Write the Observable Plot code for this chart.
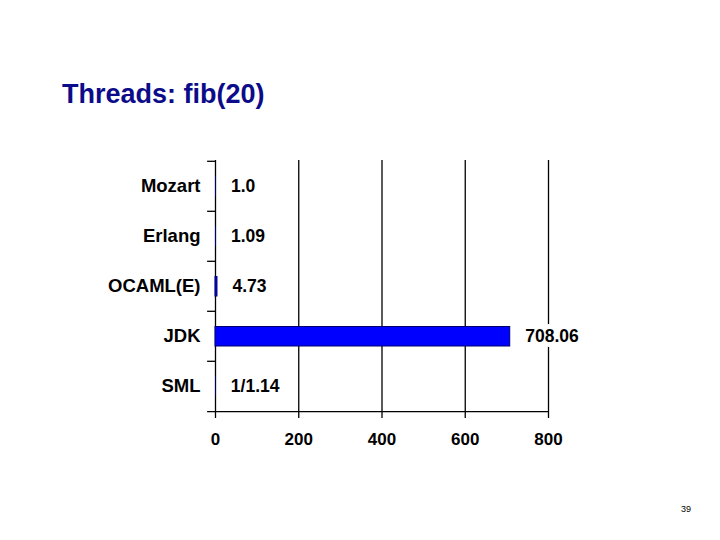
<!DOCTYPE html>
<html>
<head>
<meta charset="utf-8">
<script src="https://cdn.jsdelivr.net/npm/d3@7"></script>
<script src="https://cdn.jsdelivr.net/npm/@observablehq/plot@0.6"></script>
<style>
  html, body { margin: 0; padding: 0; background: #fff; }
  #wrap { position: relative; width: 720px; height: 540px; overflow: hidden; font-family: "Liberation Sans", Arial, sans-serif; }
  #title { position: absolute; left: 62px; top: 80.6px; font-size: 27px; line-height: 1; font-weight: bold; color: #0c0c8a; white-space: nowrap; }
  #page { position: absolute; left: 681px; top: 505.4px; font-size: 9px; line-height: 1; color: #000; }
  #chart { position: absolute; left: 0; top: 0; }
</style>
</head>
<body>
<div id="wrap">
  <div id="chart"></div>
  <div id="title">Threads: fib(20)</div>
  <div id="page">39</div>
</div>
<script>
const languages = ["Mozart", "Erlang", "OCAML(E)", "JDK", "SML"];
const times = [1.0, 1.09, 4.73, 708.06, 1 / 1.14];
const valueLabels = ["1.0", "1.09", "4.73", "708.06", "1/1.14"];
const xTicks = [0, 200, 400, 600, 800];

const data = languages.map((name, i) => ({ name, time: times[i], label: valueLabels[i] }));

const plotTop = 160, plotBottom = 412;
const bandH = (plotBottom - plotTop) / languages.length;

const chart = Plot.plot({
  width: 720,
  height: 540,
  marginLeft: 215,
  marginRight: 172,
  marginTop: plotTop,
  marginBottom: 540 - plotBottom,
  style: { fontFamily: "'Liberation Sans', Arial, sans-serif", fontWeight: "bold", background: "transparent", overflow: "visible" },
  x: { domain: [0, 800], ticks: xTicks },
  y: { domain: languages, padding: 0 },
  marks: [
    Plot.ruleX(xTicks, { stroke: "#000", strokeWidth: 1.3 }),
    Plot.barX(data.filter(d => d.time > 2), { x: "time", y: "name", fill: "#0000ff", stroke: "#00006a", strokeWidth: 1, insetTop: 15.5, insetBottom: 15 }),
    Plot.barX(data.filter(d => d.time <= 2), { x: "time", y: "name", fill: "#0000ff", insetTop: 15.5, insetBottom: 15 }),
    Plot.text(data, { x: "time", y: "name", text: "label", dx: 15, textAnchor: "start", fontSize: 17.5, fontWeight: "bold", fill: "#000", stroke: "#fff", strokeWidth: 10 }),
    Plot.ruleY(languages, { y: d => d, dy: -bandH / 2, x1: -19, x2: 0, stroke: "#000", strokeWidth: 1.3 }),
    Plot.ruleY([languages[languages.length - 1]], { y: d => d, dy: bandH / 2, x1: -19, x2: 800, stroke: "#000", strokeWidth: 1.3 }),
    Plot.axisY({ tickSize: 0, tickPadding: 15, fontSize: 18.5, fontWeight: "bold", label: null }),
    Plot.axisX({ ticks: xTicks, tickSize: 6, tickPadding: 14, fontSize: 17, fontWeight: "bold", label: null, stroke: "#000", strokeWidth: 1.3 })
  ]
});
document.getElementById("chart").appendChild(chart);
</script>
</body>
</html>
